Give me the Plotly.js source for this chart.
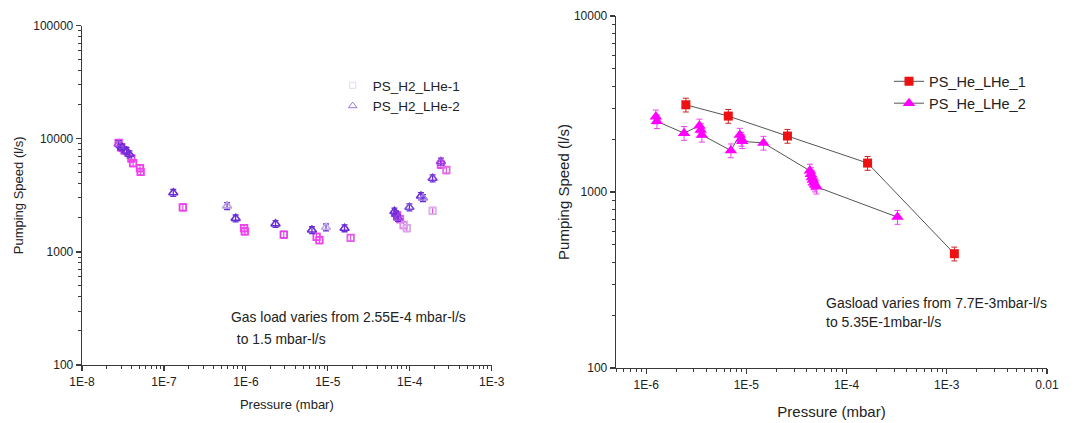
<!DOCTYPE html>
<html>
<head>
<meta charset="utf-8">
<script src="https://cdn.plot.ly/plotly-3.0.1.min.js"></script>
<style>
html,body{margin:0;padding:0;background:#fff;}
#chart{width:1089px;height:423px;}
</style>
</head>
<body>
<div id="chart"></div>
<script>
// ---- Left chart: H2 pumping speed ----
const h2_1_name = "PS_H2_LHe-1";
const h2_1_x = [2.8e-8, 3.0e-8, 3.3e-8, 4.0e-8, 4.2e-8, 5.1e-8, 5.2e-8, 1.7e-7, 9.5e-7, 9.7e-7, 2.9e-6, 7.3e-6, 7.9e-6, 1.9e-5, 7.0e-5, 7.6e-5, 8.4e-5, 9.2e-5, 1.9e-4, 2.4e-4, 2.8e-4];
const h2_1_y = [9200, 8400, 7900, 6700, 6100, 5500, 5100, 2480, 1620, 1520, 1420, 1360, 1270, 1330, 2100, 1950, 1730, 1620, 2310, 5900, 5300];
const h2_1_c = ["#f040f0","#e030e8","#e838e8","#f040f0","#f040f0","#f040f0","#f040f0","#f040f0","#f040f0","#f040f0","#e040e8","#f040f0","#f040f0","#e060e8","#e040f0","#e060e8","#e090e8","#d8a8e8","#dcb0ec","#f040f0","#e070e0"];

const h2_2_name = "PS_H2_LHe-2";
const h2_2_x = [2.8e-8, 3.1e-8, 3.5e-8, 3.8e-8, 1.3e-7, 5.9e-7, 7.5e-7, 2.3e-6, 6.4e-6, 9.5e-6, 1.6e-5, 6.5e-5, 6.8e-5, 7.2e-5, 9.9e-5, 1.37e-4, 1.45e-4, 1.9e-4, 2.4e-4];
const h2_2_y = [9000, 8400, 7800, 7300, 3330, 2550, 1980, 1770, 1560, 1650, 1620, 2280, 2150, 2000, 2480, 3120, 3000, 4480, 6300];
const h2_2_c = ["#b050e0","#6a2bd8","#6a2bd8","#7030d8","#6a2bd8","#b8a0e0","#6a2bd8","#6a2bd8","#6a2bd8","#c0b0e8","#6a2bd8","#6a2bd8","#8030d8","#a040e0","#7a50d8","#6a2bd8","#a080e0","#7a40d8","#a040e0"];

// ---- Right chart: He pumping speed ----
const he_1_name = "PS_He_LHe_1";
const he_1_x = [2.49e-6, 6.6e-6, 2.57e-5, 1.62e-4, 1.19e-3];
const he_1_y = [3130, 2700, 2080, 1460, 446];

const he_2_name = "PS_He_LHe_2";
const he_2_x = [1.25e-6, 1.28e-6, 2.39e-6, 3.4e-6, 3.5e-6, 3.6e-6, 7.0e-6, 8.6e-6, 8.9e-6, 9.1e-6, 1.48e-5, 4.3e-5, 4.4e-5, 4.5e-5, 4.6e-5, 4.7e-5, 4.85e-5, 5.0e-5, 3.22e-4];
const he_2_y = [2680, 2520, 2160, 2380, 2250, 2110, 1720, 2110, 2000, 1940, 1900, 1320, 1260, 1210, 1170, 1130, 1100, 1070, 720];

// tick labels
const leftXTicks = [1e-8, 1e-7, 1e-6, 1e-5, 1e-4, 1e-3];
const leftXText = ["1E-8", "1E-7", "1E-6", "1E-5", "1E-4", "1E-3"];
const leftYTicks = [100, 1000, 10000, 100000];
const leftYText = ["100", "1000", "10000", "100000"];
const rightXTicks = [1e-6, 1e-5, 1e-4, 1e-3, 1e-2];
const rightXText = ["1E-6", "1E-5", "1E-4", "1E-3", "0.01"];
const rightYTicks = [100, 1000, 10000];
const rightYText = ["100", "1000", "10000"];

function minorVals(lo, hi) {
  const out = [];
  for (let e = lo; e < hi; e++) {
    for (let m = 2; m <= 9; m++) out.push(m * Math.pow(10, e));
  }
  return out;
}

const FONT = "Liberation Sans, Arial, sans-serif";
const AX = "#3a3a3a";

// plot-area geometry helpers (page px -> paper fraction)
const L = 82, R = 42, T = 16, B = 55, W = 1089, H = 423;
const PW = W - L - R, PH = H - T - B;
const px = v => (v - L) / PW;
const py = v => (H - B - v) / PH;

const traces = [
  {
    x: h2_1_x, y: h2_1_y, xaxis: "x", yaxis: "y", type: "scatter", mode: "markers",
    showlegend: false,
    marker: {symbol: "square-open", size: 6.5, color: h2_1_c, line: {width: 1.8, color: h2_1_c}},
    error_y: {type: "percent", value: 7, color: "#e050e8", thickness: 1.2, width: 3}
  },
  {
    x: h2_2_x, y: h2_2_y, xaxis: "x", yaxis: "y", type: "scatter", mode: "markers",
    showlegend: false,
    marker: {symbol: "triangle-up-open", size: 8, color: h2_2_c, line: {width: 1.6, color: h2_2_c}},
    error_y: {type: "percent", value: 7, color: "#6a2bd8", thickness: 1.3, width: 3}
  },
  {
    x: [null], y: [null], xaxis: "x", yaxis: "y", type: "scatter", mode: "markers",
    name: h2_1_name, legend: "legend",
    marker: {symbol: "square-open", size: 6, color: "#ecdcf2", line: {width: 1.2, color: "#ecdcf2"}}
  },
  {
    x: [null], y: [null], xaxis: "x", yaxis: "y", type: "scatter", mode: "markers",
    name: h2_2_name, legend: "legend",
    marker: {symbol: "triangle-up-open", size: 7.5, color: "#9a78dc", line: {width: 1, color: "#9a78dc"}}
  },
  {
    x: he_1_x, y: he_1_y, xaxis: "x2", yaxis: "y2", type: "scatter", mode: "lines+markers",
    name: he_1_name, legend: "legend2",
    line: {color: "#555555", width: 1},
    marker: {symbol: "square", size: 9, color: "#ee1111"},
    error_y: {type: "percent", value: 9, color: "#cc2222", thickness: 1, width: 3}
  },
  {
    x: he_2_x, y: he_2_y, xaxis: "x2", yaxis: "y2", type: "scatter", mode: "lines+markers",
    name: he_2_name, legend: "legend2",
    line: {color: "#555555", width: 1},
    marker: {symbol: "triangle-up", size: 11, color: "#ff00ff"},
    error_y: {type: "percent", value: 9, color: "#ee44ee", thickness: 1, width: 3}
  }
];

function axisBase() {
  return {
    type: "log", showgrid: false, zeroline: false,
    showline: true, linecolor: AX, linewidth: 1.3,
    ticks: "outside", ticklen: 5, tickwidth: 1.2, tickcolor: AX,
    tickmode: "array",
    tickfont: {family: FONT, size: 12, color: "#222"},
    automargin: false
  };
}

const layout = {
  width: W, height: H,
  margin: {l: L, r: R, t: T, b: B},
  paper_bgcolor: "#ffffff", plot_bgcolor: "#ffffff",
  font: {family: FONT, color: "#222"},
  xaxis: Object.assign(axisBase(), {
    domain: [0, px(491.7)], anchor: "y",
    range: [-8, -3],
    tickvals: leftXTicks, ticktext: leftXText,
    minor: {tickmode: "array", tickvals: minorVals(-8, -3), ticks: "outside", ticklen: 3, tickcolor: AX, tickwidth: 1},
    title: {text: "Pressure (mbar)", font: {family: FONT, size: 13, color: "#222"}, standoff: 12}
  }),
  yaxis: Object.assign(axisBase(), {
    domain: [py(365), py(25.7)], anchor: "x",
    range: [2, 5],
    tickvals: leftYTicks, ticktext: leftYText,
    minor: {tickmode: "array", tickvals: minorVals(2, 5), ticks: "outside", ticklen: 3, tickcolor: AX, tickwidth: 1},
    title: {text: "Pumping Speed (l/s)", font: {family: FONT, size: 13, color: "#222"}, standoff: 6}
  }),
  xaxis2: Object.assign(axisBase(), {
    domain: [px(616), 1], anchor: "y2",
    range: [Math.log10(5e-7), -2],
    tickvals: rightXTicks, ticktext: rightXText,
    minor: {tickmode: "array", tickvals: minorVals(-7, -2).filter(v => v >= 5e-7), ticks: "outside", ticklen: 3, tickcolor: AX, tickwidth: 1},
    title: {text: "Pressure (mbar)", font: {family: FONT, size: 15, color: "#222"}, standoff: 15}
  }),
  yaxis2: Object.assign(axisBase(), {
    domain: [0, 1], anchor: "x2",
    range: [2, 4],
    tickvals: rightYTicks, ticktext: rightYText,
    minor: {tickmode: "array", tickvals: minorVals(2, 4), ticks: "outside", ticklen: 3, tickcolor: AX, tickwidth: 1},
    title: {text: "Pumping Speed (l/s)", font: {family: FONT, size: 15, color: "#222"}, standoff: 0}
  }),
  legend: {
    x: px(332.7), y: py(70), xanchor: "left", yanchor: "top",
    bgcolor: "rgba(0,0,0,0)", font: {family: FONT, size: 13.5, color: "#222"}
  },
  legend2: {
    x: px(889), y: py(65.4), xanchor: "left", yanchor: "top",
    bgcolor: "rgba(0,0,0,0)", font: {family: FONT, size: 14.5, color: "#222"}
  },
  annotations: [
    {text: "Gas load varies from 2.55E-4 mbar-l/s", xref: "paper", yref: "paper",
     x: px(229), y: py(317), xanchor: "left", yanchor: "middle", showarrow: false,
     font: {family: FONT, size: 13.9, color: "#222"}},
    {text: " to 1.5 mbar-l/s", xref: "paper", yref: "paper",
     x: px(231), y: py(339), xanchor: "left", yanchor: "middle", showarrow: false,
     font: {family: FONT, size: 13.9, color: "#222"}},
    {text: "Gasload varies from 7.7E-3mbar-l/s", xref: "paper", yref: "paper",
     x: px(824), y: py(303), xanchor: "left", yanchor: "middle", showarrow: false,
     font: {family: FONT, size: 14, color: "#222"}},
    {text: "to 5.35E-1mbar-l/s", xref: "paper", yref: "paper",
     x: px(824), y: py(322), xanchor: "left", yanchor: "middle", showarrow: false,
     font: {family: FONT, size: 14, color: "#222"}}
  ]
};

Plotly.newPlot("chart", traces, layout, {displayModeBar: false, staticPlot: true});
</script>
</body>
</html>
